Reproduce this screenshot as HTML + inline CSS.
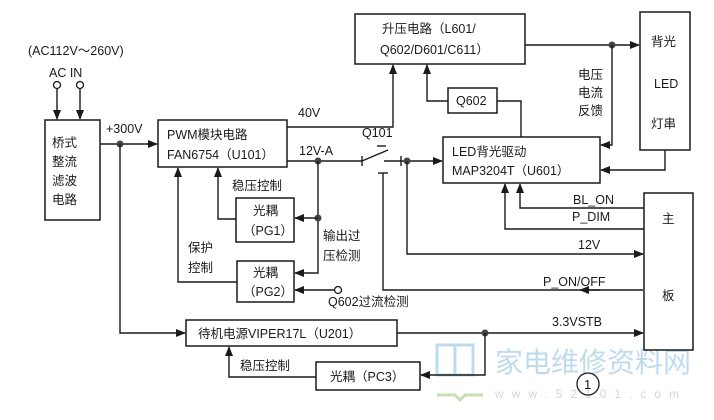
<!DOCTYPE html>
<html><head><meta charset="utf-8"><style>
html,body{margin:0;padding:0;background:#fff}
svg{display:block}
text{font-family:"Liberation Sans","Noto Sans CJK SC",sans-serif;font-size:12.5px;fill:#1a1a1a}
.b{fill:#fff;stroke:#1a1a1a;stroke-width:1.5}
.l{fill:none;stroke:#1a1a1a;stroke-width:1.4}
</style></head><body>
<svg width="714" height="420" viewBox="0 0 714 420" xmlns="http://www.w3.org/2000/svg">
<defs>
<marker id="a" markerWidth="10" markerHeight="8" refX="9" refY="4" orient="auto" markerUnits="userSpaceOnUse"><path d="M0,0 L10,4 L0,8 Z" fill="#1a1a1a"/></marker>
</defs>
<g opacity="0.5">
<rect x="437" y="345" width="18" height="30" fill="none" stroke="#7fb8dd" stroke-width="3"/>
<rect x="455" y="345" width="18" height="30" fill="none" stroke="#7fb8dd" stroke-width="3"/>
<path d="M437,395 L455,395 L460,400 L465,395 L483,395" stroke="#8cc36a" stroke-width="3" fill="none"/>
<text x="495" y="372" style="font-size:28px;fill:#7fb8dd">家电维修资料网</text>
<text x="495" y="398" style="font-size:12px;fill:#aab;letter-spacing:8px">www.52101.com</text>
</g>
<rect class="b" x="45" y="120" width="55" height="100"/>
<text x="52" y="147">桥式</text><text x="52" y="166">整流</text><text x="52" y="185">滤波</text><text x="52" y="204">电路</text>
<rect class="b" x="158" y="120" width="129" height="47"/>
<text x="167" y="139">PWM模块电路</text><text x="167" y="159">FAN6754（U101）</text>
<rect class="b" x="355" y="14" width="170" height="50"/>
<text x="382" y="33">升压电路（L601/</text><text x="380" y="54">Q602/D601/C611）</text>
<rect class="b" x="640" y="12" width="50" height="138"/>
<text x="651" y="46">背光</text><text x="654" y="88">LED</text><text x="651" y="128">灯串</text>
<rect class="b" x="448" y="88" width="49" height="25"/>
<text x="456" y="105">Q602</text>
<rect class="b" x="443" y="137" width="157" height="46"/>
<text x="452" y="156">LED背光驱动</text><text x="452" y="175">MAP3204T（U601）</text>
<rect class="b" x="644" y="193" width="49" height="157"/>
<text x="662" y="223">主</text><text x="662" y="300">板</text>
<rect class="b" x="236" y="198" width="58" height="44"/>
<text x="253" y="215">光耦</text><text x="243" y="235">（PG1）</text>
<rect class="b" x="237" y="261" width="57" height="41"/>
<text x="253" y="277">光耦</text><text x="243" y="296">（PG2）</text>
<rect class="b" x="186" y="320" width="211" height="26"/>
<text x="198" y="338">待机电源VIPER17L（U201）</text>
<rect class="b" x="316" y="362" width="104" height="28"/>
<text x="330" y="381">光耦（PC3）</text>
<text x="28" y="55">(AC112V～260V)</text>
<text x="49" y="77">AC IN</text>
<text x="106" y="133">+300V</text>
<text x="298" y="117">40V</text>
<text x="299" y="155">12V-A</text>
<text x="362" y="137">Q101</text>
<text x="232" y="190">稳压控制</text>
<text x="188" y="252">保护</text><text x="188" y="272">控制</text>
<text x="323" y="240">输出过</text><text x="323" y="260">压检测</text>
<text x="328" y="306">Q602过流检测</text>
<text x="578" y="79">电压</text><text x="578" y="97">电流</text><text x="578" y="115">反馈</text>
<text x="573" y="204">BL_ON</text><text x="572" y="221">P_DIM</text>
<text x="578" y="249">12V</text><text x="543" y="286">P_ON/OFF</text>
<text x="552" y="326">3.3VSTB</text>
<text x="240" y="370">稳压控制</text>
<circle cx="588" cy="384" r="11" fill="none" stroke="#1a1a1a" stroke-width="1.3"/><text x="584" y="389" style="font-size:13px">1</text>
<circle cx="57" cy="85" r="3.5" fill="#fff" stroke="#1a1a1a" stroke-width="1.3"/>
<circle cx="80" cy="85" r="3.5" fill="#fff" stroke="#1a1a1a" stroke-width="1.3"/>
<path class="l" d="M57,89 V119" marker-end="url(#a)"/>
<path class="l" d="M80,89 V119" marker-end="url(#a)"/>
<path class="l" d="M100,144 H157" marker-end="url(#a)"/>
<circle cx="120" cy="144" r="3.5" fill="#444"/>
<path class="l" d="M120,144 V333 H185" marker-end="url(#a)"/>
<path class="l" d="M287,127 H393 V65" marker-end="url(#a)"/>
<path class="l" d="M448,101 H427 V65" marker-end="url(#a)"/>
<path class="l" d="M497,101 H521 V137"/>
<path class="l" d="M525,45 H639" marker-end="url(#a)"/>
<circle cx="612" cy="45" r="3.5" fill="#444"/>
<path class="l" d="M612,45 V145 H601" marker-end="url(#a)"/>
<path class="l" d="M665,150 V170 H601" marker-end="url(#a)"/>
<path class="l" d="M287,161 H362"/>
<path class="l" d="M362,156 V166"/>
<path class="l" d="M362,161 L388,150"/>
<path class="l" d="M377,146 H386"/>
<path class="l" d="M384,161 H401"/>
<path class="l" d="M401,156 V166"/>
<path class="l" d="M401,161 H442" marker-end="url(#a)"/>
<circle cx="407" cy="161" r="3.5" fill="#444"/>
<path class="l" d="M378,173 H388"/>
<path class="l" d="M383,173 V290 H643" />
<path class="l" d="M600,290 H580" marker-end="url(#a)"/>
<path class="l" d="M407,161 V254 H643" marker-end="url(#a)"/>
<path class="l" d="M644,208 H520 V184" marker-end="url(#a)"/>
<path class="l" d="M644,229 H505 V184" marker-end="url(#a)"/>
<circle cx="318" cy="161" r="3.5" fill="#444"/>
<path class="l" d="M318,161 V273 H295" marker-end="url(#a)"/>
<circle cx="318" cy="218" r="3.5" fill="#444"/>
<path class="l" d="M318,218 H295" marker-end="url(#a)"/>
<circle cx="338" cy="290" r="3.5" fill="#fff" stroke="#1a1a1a" stroke-width="1.3"/>
<path class="l" d="M334,290 H295" marker-end="url(#a)"/>
<path class="l" d="M236,219 H218 V168" marker-end="url(#a)"/>
<path class="l" d="M237,282 H178 V168" marker-end="url(#a)"/>
<path class="l" d="M397,333 H643" marker-end="url(#a)"/>
<circle cx="485" cy="333" r="3.5" fill="#444"/>
<path class="l" d="M485,333 V375 H421" marker-end="url(#a)"/>
<path class="l" d="M316,377 H229 V347" marker-end="url(#a)"/>
</svg>
</body></html>
